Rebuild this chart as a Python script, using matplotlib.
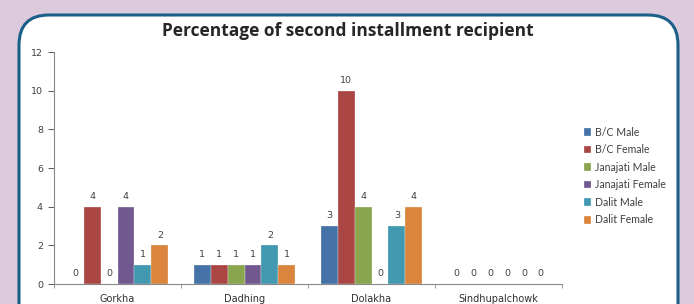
import matplotlib
matplotlib.use("Agg")
import matplotlib.pyplot as plt
from matplotlib.patches import FancyBboxPatch
from matplotlib.transforms import IdentityTransform
import numpy as np

districts = ["Gorkha", "Dadhing", "Dolakha", "Sindhupalchowk"]
groups = ["B/C Male", "B/C Female", "Janajati Male", "Janajati Female", "Dalit Male", "Dalit Female"]
bc_male = [0, 1, 3, 0]
bc_female = [4, 1, 10, 0]
jan_male = [0, 1, 4, 0]
jan_female = [4, 1, 0, 0]
dalit_male = [1, 2, 3, 0]
dalit_female = [2, 1, 4, 0]
series = [bc_male, bc_female, jan_male, jan_female, dalit_male, dalit_female]
colors = ["#4572A7", "#AA4643", "#89A54E", "#71588F", "#4198AF", "#DB843D"]

fig = plt.figure(figsize=(6.94, 3.04), dpi=100)
fig.patch.set_facecolor("#dccbdc")

# white rounded panel, drawn in pixel coordinates
panel = FancyBboxPatch((19, -40), 659, 329, boxstyle="round,pad=0,rounding_size=30",
                       facecolor="white", edgecolor="#1b5f88", linewidth=2.2,
                       transform=IdentityTransform(), zorder=-5)
fig.patches.append(panel)

ax = fig.add_axes([54 / 694, 20 / 304, (562 - 54) / 694, (284 - 52) / 304])
ax.set_facecolor("none")

w = 1 / 7.5
x = np.arange(len(districts))
for j, (vals, c, name) in enumerate(zip(series, colors, groups)):
    pos = x + (j - 2.5) * w
    ax.bar(pos, vals, width=w, color=c, label=name, edgecolor="white", linewidth=0.2)
    for p, v in zip(pos, vals):
        ax.text(p, v + 0.3, str(v), ha="center", va="bottom", fontsize=6.8, color="#404040")

ax.set_xlim(-0.5, 3.5)
ax.set_ylim(0, 12)
ax.set_yticks(range(0, 13, 2))
ax.tick_params(axis="y", labelsize=6.8, colors="#404040", length=4, width=0.6, pad=4)
ax.set_xticks(x)
ax.set_xticklabels(districts)
ax.set_xticks(np.arange(-0.5, 4, 1), minor=True)
ax.tick_params(axis="x", which="major", length=0, labelsize=7, colors="#303030", pad=7)
ax.tick_params(axis="x", which="minor", length=3, width=0.6, color="#888888")
for s in ["top", "right"]:
    ax.spines[s].set_visible(False)
for s in ["left", "bottom"]:
    ax.spines[s].set_color("#888888")
    ax.spines[s].set_linewidth(0.8)

fig.text(348 / 694, 1 - 31 / 304, "Percentage of second installment recipient",
         ha="center", va="center", fontsize=12.5, fontweight="bold", family="Open Sans", color="#262626")

leg = fig.legend(loc="center left", bbox_to_anchor=(574 / 694, 1 - 176 / 304), frameon=False,
                 prop={"family": "Lato", "size": 7.6}, handlelength=0.75, handleheight=0.75,
                 handletextpad=0.3, labelspacing=0.62)
for t in leg.get_texts():
    t.set_color("#404040")

fig.savefig("out.png", dpi=100, facecolor=fig.get_facecolor())
